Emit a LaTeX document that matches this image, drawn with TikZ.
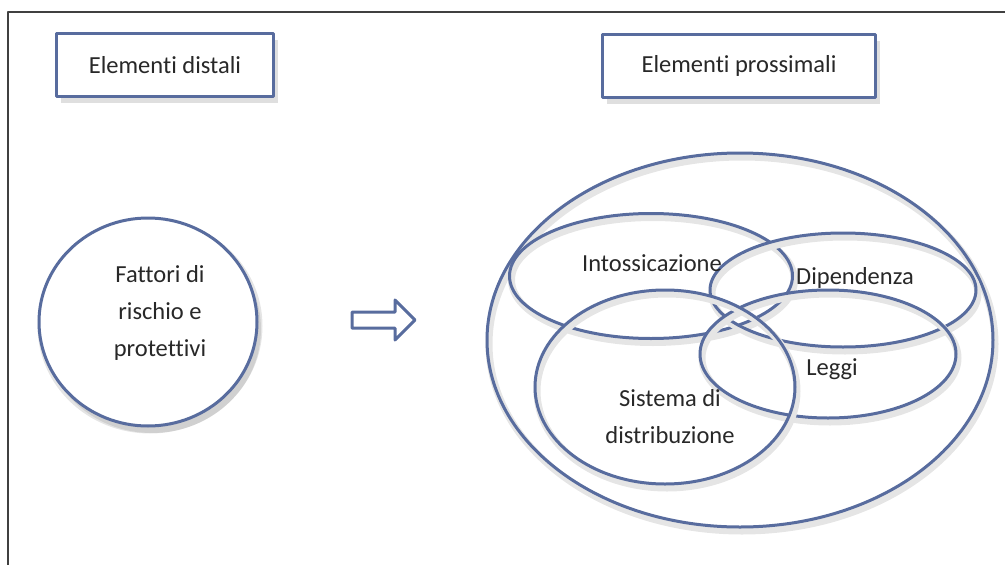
\documentclass[tikz,border=0pt]{standalone}
\usepackage{fontspec}
\setmainfont[Ligatures=NoCommon]{Carlito}
\usetikzlibrary{shapes.geometric,shadows}
\definecolor{ringblue}{RGB}{88,108,158}
\definecolor{txtgray}{RGB}{40,40,40}
\tikzset{
	ring/.style={ellipse, draw=ringblue, line width=3pt, inner sep=0pt,
		preaction={draw=black!10, line width=7pt, transform canvas={xshift=2pt,yshift=-4pt}}},
	titlebox/.style={rectangle, draw=ringblue, line width=3pt, fill=white, inner sep=0pt,
		drop shadow={opacity=0.25, shadow xshift=4pt, shadow yshift=-6pt}},
	lbl/.style={text=txtgray, font=\fontsize{24.5}{37}\selectfont, align=center, inner sep=0pt}
}
\begin{document}
\begin{tikzpicture}[x=1pt, y=-1pt, line join = round, line cap = round]
	\useasboundingbox (0,0) rectangle (1005,565);
	\coordinate (FL) at (8,565);
	\coordinate (FC) at (8,12);
	\coordinate (FR) at (1005,12);
	\draw[black!75, line width=2.5pt, line cap=butt] (FL) -- (FC) -- (FR);
	
	\node[titlebox, minimum width=217pt, minimum height=63pt] (distbox) at (165,65) {};
	\node[lbl] (distal) at (distbox) {Elementi distali};
	\node[titlebox, minimum width=273pt, minimum height=63pt] (proxbox) at (739,66) {};
	\node[lbl] (prox) at (proxbox) {Elementi prossimali};
	
	\node[ring, fill=white, minimum width=218pt, minimum height=208pt,
		drop shadow={opacity=0.2, shadow xshift=4pt, shadow yshift=-7pt}] (fattori) at (148,322) {};
	\node[lbl] (fattxt) at (160,313) {Fattori di\\rischio e\\protettivi};
	
	\coordinate (A1) at (352,312);
	\coordinate (A2) at (395,312);
	\coordinate (A3) at (395,300);
	\coordinate (A4) at (415,320);
	\coordinate (A5) at (395,340);
	\coordinate (A6) at (395,328);
	\coordinate (A7) at (352,328);
	\fill[black!15, opacity=0.6, xshift=3pt, yshift=-5pt] (A1)--(A2)--(A3)--(A4)--(A5)--(A6)--(A7)--cycle;
	\draw[ringblue, line width=3pt, fill=white] (A1)--(A2)--(A3)--(A4)--(A5)--(A6)--(A7)--cycle;
	
	\node[ring, minimum width=506pt, minimum height=374pt] (outer) at (740,340) {};
	\node[ring, minimum width=283pt, minimum height=125pt] (intox) at (651,276) {};
	\node[ring, minimum width=266pt, minimum height=114pt] (dipend) at (843,290) {};
	\node[ring, minimum width=256pt, minimum height=128pt] (leggi) at (828,354) {};
	\node[ring, minimum width=260pt, minimum height=194pt] (sistema) at (665,387) {};
	
	\node[lbl] (intoxtxt) at (652,263) {Intossicazione};
	\node[lbl] (diptxt) at (855,278) {Dipendenza};
	\node[lbl] (leggitxt) at (832,369) {Leggi};
	\node[lbl] (sistxt) at (670,417) {Sistema di\\distribuzione};
	
\end{tikzpicture}
\end{document}
